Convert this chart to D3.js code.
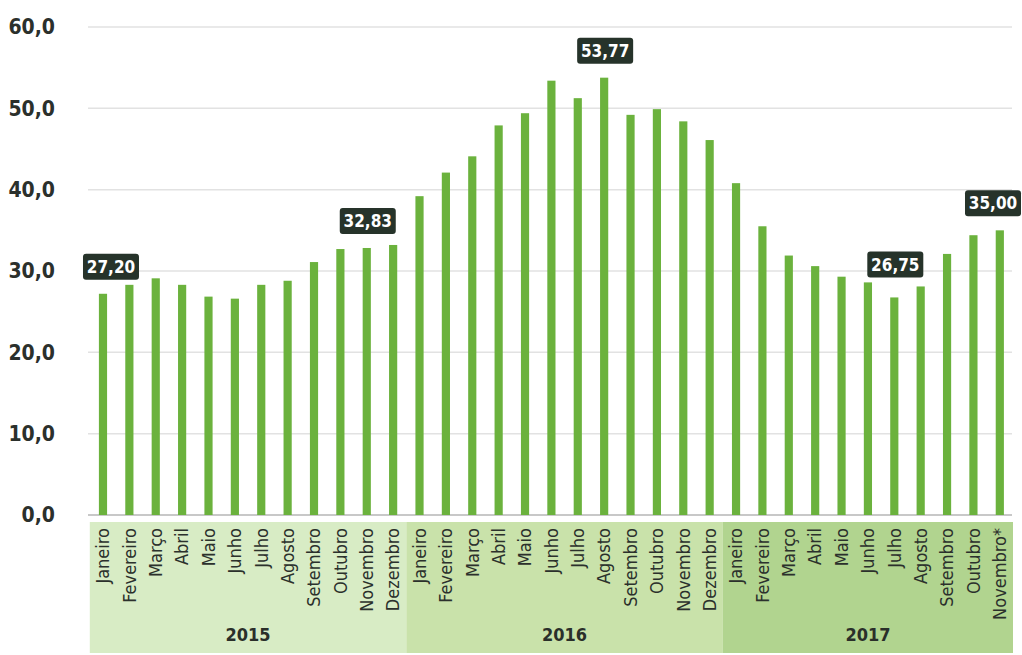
<!DOCTYPE html>
<html><head><meta charset="utf-8">
<script src="https://cdn.jsdelivr.net/npm/d3@7/dist/d3.min.js"></script>
<style>
html,body{margin:0;padding:0;background:#fff;}
svg{display:block;}
</style></head>
<body>
<svg id="chart" width="1022" height="655"></svg>
<script>
const months = ["Janeiro","Fevereiro","Março","Abril","Maio","Junho","Julho","Agosto","Setembro","Outubro","Novembro","Dezembro"];
const years = ["2015","2016","2017"];
const monthLabels = months.concat(months, months.slice(0,10), ["Novembro*"]);
const yearOfBar = [].concat(Array(12).fill("2015"), Array(12).fill("2016"), Array(11).fill("2017"));
const values2015 = [27.20, 28.3, 29.1, 28.3, 26.85, 26.6, 28.3, 28.8, 31.1, 32.7, 32.83, 33.2];
const values2016 = [39.2, 42.1, 44.1, 47.9, 49.4, 53.4, 51.25, 53.77, 49.2, 49.9, 48.4, 46.1];
const values2017 = [40.8, 35.5, 31.9, 30.6, 29.3, 28.6, 26.75, 28.1, 32.1, 34.4, 35.00];
const values = values2015.concat(values2016, values2017);
const yTicks = [0, 10, 20, 30, 40, 50, 60];
const annotated = [0, 10, 19, 30, 34]; // bar indices with value boxes
const annotatedText = ["27,20", "32,83", "53,77", "26,75", "35,00"];

const FONT = "'DejaVu Sans Condensed', 'Liberation Sans Narrow', sans-serif";
const ids = values.map((v, i) => i);
const svg = d3.select("#chart");
const x = d3.scaleBand().domain(ids).range([89.8, 1013]).paddingInner(0.69).paddingOuter(0.345);
const y = d3.scaleLinear().domain([0, 60]).range([515, 27]);
const fmt = v => d3.format(".1f")(v).replace(".", ",");

const bandColor = {"2015": "#d8ecc5", "2016": "#c9e2aa", "2017": "#b1d48f"};
const step = x.step();
const x0 = x.range()[0];

// year bands
years.forEach(yr => {
  const idx = ids.filter(i => yearOfBar[i] === yr);
  const left = x0 + idx[0] * step;
  const right = yr === "2017" ? x.range()[1] : x0 + (idx[idx.length - 1] + 1) * step;
  svg.append("rect").attr("x", left).attr("y", 522).attr("width", right - left).attr("height", 131)
    .attr("fill", bandColor[yr]);
  svg.append("text").attr("x", (left + right) / 2).attr("y", 641)
    .attr("text-anchor", "middle").attr("font-family", FONT)
    .attr("font-weight", "bold").attr("font-size", 18).attr("fill", "#2a2f2a").text(yr);
});

// grid
svg.append("g").selectAll("line").data(yTicks).join("line")
  .attr("x1", 88).attr("x2", 1012).attr("y1", d => y(d)).attr("y2", d => y(d))
  .attr("stroke", d => d === 0 ? "#c8c8c8" : "#e2e2e2").attr("stroke-width", d => d === 0 ? 2 : 1.5);

// y axis
const yAxis = d3.axisLeft(y).tickValues(yTicks).tickFormat(fmt).tickSize(0);
const ga = svg.append("g").attr("transform", "translate(58,0)").call(yAxis);
ga.select(".domain").remove();
ga.selectAll("text").attr("font-family", FONT)
  .attr("font-weight", "bold").attr("font-size", 21).attr("fill", "#2b302c").attr("dx", 0).attr("text-anchor", "end");

// bars
svg.append("g").selectAll("rect").data(ids).join("rect")
  .attr("x", i => x(i)).attr("width", x.bandwidth())
  .attr("y", i => y(values[i])).attr("height", i => y(0) - y(values[i]))
  .attr("fill", "#6bb23d");

// month labels
const xAxis = d3.axisBottom(x).tickFormat(i => monthLabels[i]).tickSize(0);
const gx = svg.append("g").attr("transform", "translate(0,515)").call(xAxis);
gx.select(".domain").remove();
gx.selectAll("text")
  .attr("font-family", FONT)
  .attr("font-size", 18).attr("fill", "#2b302c")
  .attr("text-anchor", "end").attr("transform", "rotate(-90)")
  .attr("x", -13).attr("y", 0).attr("dy", "0.35em").attr("dx", 0);

// value boxes
const ann = svg.append("g");
annotated.forEach((i, k) => {
  const w = 56;
  let cx = x(i) + x.bandwidth() / 2 + (k === 0 ? 8 : 1);
  cx = Math.min(cx, 1021 - w / 2);
  const top = y(values[i]) - 14 - 26 - (k === 3 ? 6 : 0);
  ann.append("rect").attr("x", cx - w / 2).attr("y", top).attr("width", w).attr("height", 26)
    .attr("rx", 3).attr("fill", "#26332a");
  ann.append("text").attr("x", cx).attr("y", top + 13).attr("dy", "0.36em")
    .attr("text-anchor", "middle").attr("font-family", FONT)
    .attr("font-weight", "bold").attr("font-size", 17).attr("fill", "#fff").text(annotatedText[k]);
});
</script>
</body></html>
